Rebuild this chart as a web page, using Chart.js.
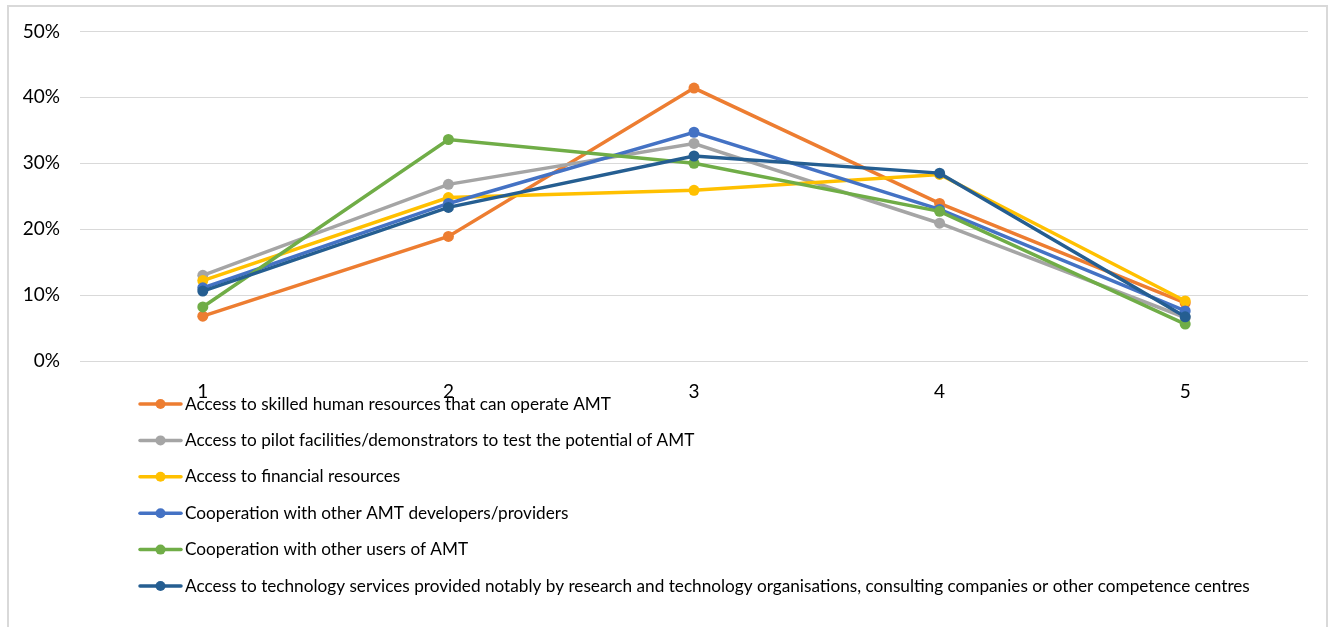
<!DOCTYPE html>
<html>
<head>
<meta charset="utf-8">
<script src="https://cdn.jsdelivr.net/npm/chart.js@4.4.1/dist/chart.umd.min.js"></script>
<style>
  html, body { margin: 0; padding: 0; background: #fff; }
  #frame {
    position: absolute; left: 7px; top: 5px; width: 1321px; height: 640px;
    border: 2px solid #d9d9d9; box-sizing: border-box;
  }
  #wrap { position: absolute; left: 0; top: 0; width: 1336px; height: 627px; }
</style>
</head>
<body>
<div id="frame"></div>
<div id="wrap"><canvas id="myChart"></canvas></div>
<script>
const categories = ['1', '2', '3', '4', '5'];

const seriesNames = [
    'Access to skilled human resources that can operate AMT',
    'Access to pilot facilities/demonstrators to test the potential of AMT',
    'Access to financial resources',
    'Cooperation with other AMT developers/providers',
    'Cooperation with other users of AMT',
    'Access to technology services provided notably by research and technology organisations, consulting companies or other competence centres'
];

// share of respondents, in %
const skilledHR      = [6.8, 18.9, 41.4, 23.9, 8.8];
const pilotFacility  = [13.0, 26.8, 33.0, 20.9, 6.6];
const financial      = [12.2, 24.8, 25.9, 28.3, 9.1];
const coopDevelopers = [11.1, 23.9, 34.7, 23.0, 7.6];
const coopUsers      = [8.2, 33.6, 30.0, 22.7, 5.6];
const techServices   = [10.6, 23.3, 31.1, 28.5, 6.7];

const seriesValues = [skilledHR, pilotFacility, financial, coopDevelopers, coopUsers, techServices];
const seriesColors = ['#ED7D31', '#A5A5A5', '#FFC000', '#4472C4', '#70AD47', '#255E91'];

const yTicks = [0, 10, 20, 30, 40, 50];

const FONT = 'Lato, "Liberation Sans", sans-serif';

// vertical legend under the x axis, one series per row
const listLegend = {
    id: 'listLegend',
    afterDraw(chart) {
        const c = chart.ctx;
        const x0 = 140, x1 = 181, y0 = 404, step = 36.4;
        c.save();
        c.font = '17.2px ' + FONT;
        c.textBaseline = 'middle';
        chart.data.datasets.forEach((ds, i) => {
            const y = y0 + i * step;
            c.strokeStyle = ds.borderColor;
            c.lineWidth = 3.5;
            c.lineCap = 'round';
            c.beginPath();
            c.moveTo(x0, y);
            c.lineTo(x1, y);
            c.stroke();
            c.fillStyle = ds.borderColor;
            c.beginPath();
            c.arc((x0 + x1) / 2, y, 5, 0, Math.PI * 2);
            c.fill();
            c.fillStyle = '#000';
            c.fillText(ds.label, x1 + 4, y);
        });
        c.restore();
    }
};

const ctx = document.getElementById('myChart').getContext('2d');
const myChart = new Chart(ctx, {
    type: 'line',
    data: {
        labels: categories,
        datasets: seriesNames.map((name, i) => ({
            label: name,
            data: seriesValues[i],
            borderColor: seriesColors[i],
            backgroundColor: seriesColors[i],
            borderWidth: 3.5,
            pointRadius: 5.5,
            pointHoverRadius: 5.5,
            pointBorderWidth: 0,
            tension: 0,
            order: seriesNames.length - i
        }))
    },
    options: {
        responsive: true,
        maintainAspectRatio: false,
        animation: false,
        layout: { padding: { top: 30, right: 28, bottom: 0, left: 0 } },
        plugins: {
            legend: { display: false },
            tooltip: { enabled: false }
        },
        scales: {
            x: {
                offset: true,
                grid: { display: false },
                border: { display: false },
                ticks: { color: '#000', font: { family: FONT, size: 19 }, padding: 11 },
                afterFit(scale) { scale.height = 266; }
            },
            y: {
                min: 0,
                max: 50,
                afterBuildTicks(scale) { scale.ticks = yTicks.map(v => ({ value: v })); },
                grid: { color: '#d9d9d9', lineWidth: 1, drawTicks: false },
                border: { display: false },
                ticks: {
                    color: '#000',
                    font: { family: FONT, size: 19 },
                    padding: 20,
                    callback: v => v + '%'
                },
                afterFit(scale) { scale.width = 80; }
            }
        }
    },
    plugins: [listLegend]
});
</script>
</body>
</html>
